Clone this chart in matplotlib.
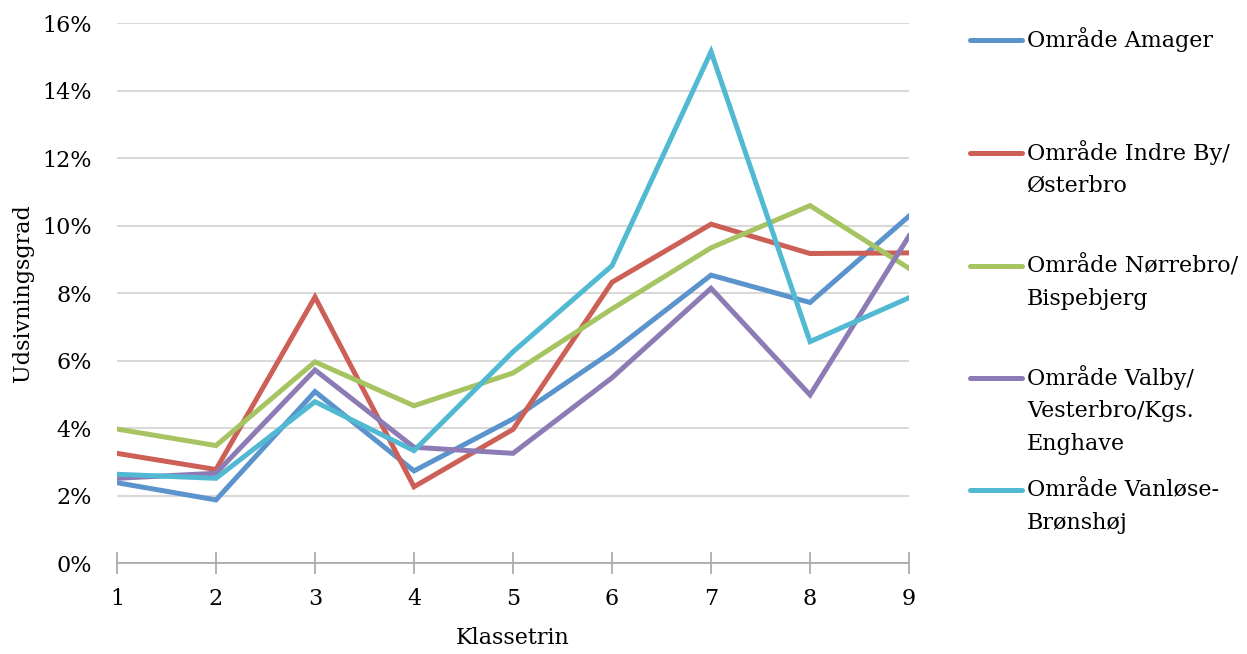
import matplotlib
matplotlib.use("Agg")
import matplotlib.pyplot as plt
from matplotlib.lines import Line2D
from matplotlib.ticker import FuncFormatter

plt.rcParams["font.family"] = ["DejaVu Serif"]

# Klassetrin 1-9
klassetrin = [1, 2, 3, 4, 5, 6, 7, 8, 9]

# Udsivningsgrad i procent
amager = [2.38, 1.87, 5.08, 2.73, 4.27, 6.26, 8.53, 7.72, 10.28]
indre_by = [3.25, 2.77, 7.88, 2.26, 3.96, 8.32, 10.04, 9.17, 9.19]
noerrebro = [3.97, 3.48, 5.96, 4.66, 5.63, 7.53, 9.34, 10.59, 8.73]
valby = [2.51, 2.66, 5.72, 3.43, 3.25, 5.49, 8.14, 4.98, 9.69]
vanloese = [2.63, 2.51, 4.78, 3.33, 6.26, 8.81, 15.15, 6.56, 7.86]

serier = [
    ("Område Amager", amager, "#5b93cd"),
    ("Område Indre By/\nØsterbro", indre_by, "#cc6057"),
    ("Område Nørrebro/\nBispebjerg", noerrebro, "#a6c462"),
    ("Område Valby/\nVesterbro/Kgs.\nEnghave", valby, "#8d7bb5"),
    ("Område Vanløse-\nBrønshøj", vanloese, "#52b9d2"),
]

fs = 16

fig = plt.figure(figsize=(12.47, 6.54), dpi=100)
ax = fig.add_axes([0.0938, 0.1391, 0.7290 - 0.0938, 0.9648 - 0.1391])

for navn, vaerdier, farve in serier:
    ax.plot(klassetrin, vaerdier, color=farve, linewidth=3.6,
            solid_joinstyle="miter", zorder=3)

ax.set_xlim(1, 9)
ax.set_ylim(0, 16)
ax.set_yticks(range(0, 17, 2))
ax.set_xticks(klassetrin)
ax.yaxis.set_major_formatter(FuncFormatter(lambda v, _: f"{v:.0f}%"))
ax.grid(axis="y", color="#d9d9d9", linewidth=1.5, zorder=0)
ax.set_axisbelow(True)
for s in ["top", "right", "left"]:
    ax.spines[s].set_visible(False)
ax.spines["bottom"].set_color("#a6a6a6")
ax.spines["bottom"].set_linewidth(1.2)
ax.tick_params(axis="y", length=0, labelsize=fs, pad=18)
ax.tick_params(axis="x", direction="inout", length=16, width=1.2,
               color="#a6a6a6", labelsize=fs, pad=10)
ax.set_xlabel("Klassetrin", fontsize=fs, labelpad=12)
ax.set_ylabel("Udsivningsgrad", fontsize=fs, labelpad=6)

# manuel legende
W, H = fig.get_size_inches() * fig.dpi
leg_y = [40, 153, 266, 378, 490]
linje_h = 33
for (navn, _, farve), y in zip(serier, leg_y):
    fig.add_artist(Line2D([970 / W, 1022 / W], [1 - y / H, 1 - y / H],
                          color=farve, linewidth=3.6, solid_capstyle="round"))
    for i, tekst in enumerate(navn.split("\n")):
        fig.text(1027 / W, 1 - (y + i * linje_h) / H, tekst,
                 fontsize=fs, va="center", ha="left")

fig.savefig("out.png", dpi=100)
